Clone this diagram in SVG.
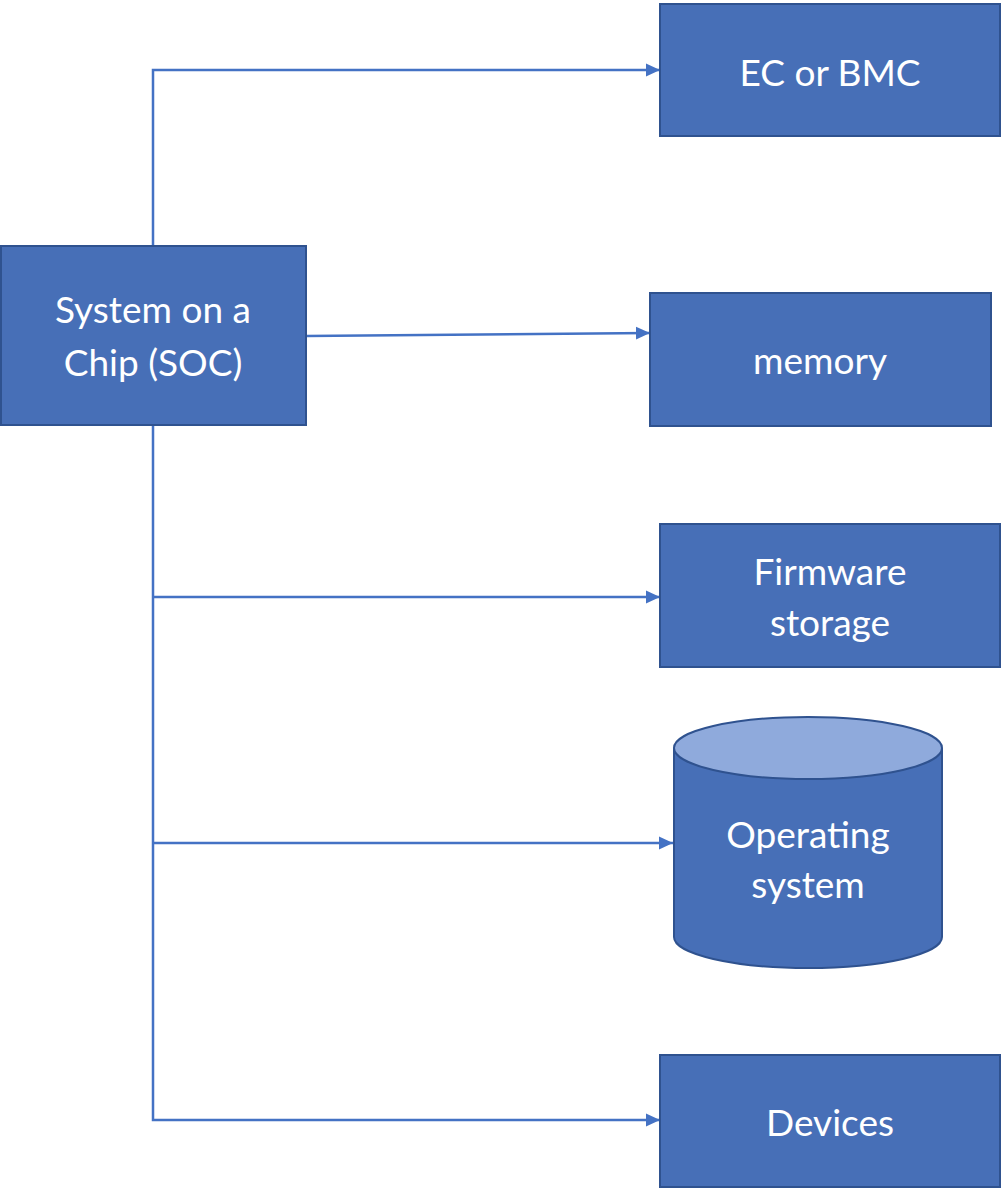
<svg xmlns="http://www.w3.org/2000/svg" width="1004" height="1188" viewBox="0 0 1004 1188">
<style>
.box{fill:#476FB7;stroke:#2F528F;stroke-width:2}
.top{fill:#8FAADC;stroke:#2F528F;stroke-width:2}
.lbl{fill:#fff;font-family:Lato,"Open Sans",sans-serif;font-size:37px;text-anchor:middle}
.con{fill:none;stroke:#4472C4;stroke-width:2.5}
</style>
<defs>
<marker id="arr" markerWidth="16" markerHeight="16" refX="14" refY="8" orient="auto" markerUnits="userSpaceOnUse">
<path d="M0,1.5 L14,8 L0,14.5 Z" fill="#4472C4"/>
</marker>
</defs>
<rect width="1004" height="1188" fill="#fff"/>
<g id="connectors">
<path class="con" d="M153,246 V70 H660" marker-end="url(#arr)"/>
<path class="con" d="M306,336 L650,333" marker-end="url(#arr)"/>
<path class="con" d="M153,425 V1120 H660" marker-end="url(#arr)"/>
<path class="con" d="M153,597 H660" marker-end="url(#arr)"/>
<path class="con" d="M153,843 H673" marker-end="url(#arr)"/>
</g>
<g id="soc">
<rect class="box" x="1" y="246" width="305" height="179"/>
<text class="lbl" x="153" y="323">System on a</text>
<text class="lbl" x="153" y="376">Chip (SOC)</text>
</g>
<g id="ec">
<rect class="box" x="660" y="4" width="340" height="132"/>
<text class="lbl" x="830" y="86">EC or BMC</text>
</g>
<g id="memory">
<rect class="box" x="650" y="293" width="341" height="133"/>
<text class="lbl" x="820" y="374">memory</text>
</g>
<g id="firmware">
<rect class="box" x="660" y="524" width="340" height="143"/>
<text class="lbl" x="830" y="585">Firmware</text>
<text class="lbl" x="830" y="636">storage</text>
</g>
<g id="os">
<path class="box" d="M674,748 V937 A134,31 0 0 0 942,937 V748"/>
<ellipse class="top" cx="808" cy="748" rx="134" ry="31"/>
<text class="lbl" x="808" y="848">Operating</text>
<text class="lbl" x="808" y="898">system</text>
</g>
<g id="devices">
<rect class="box" x="660" y="1055" width="340" height="132"/>
<text class="lbl" x="830" y="1136">Devices</text>
</g>
</svg>
